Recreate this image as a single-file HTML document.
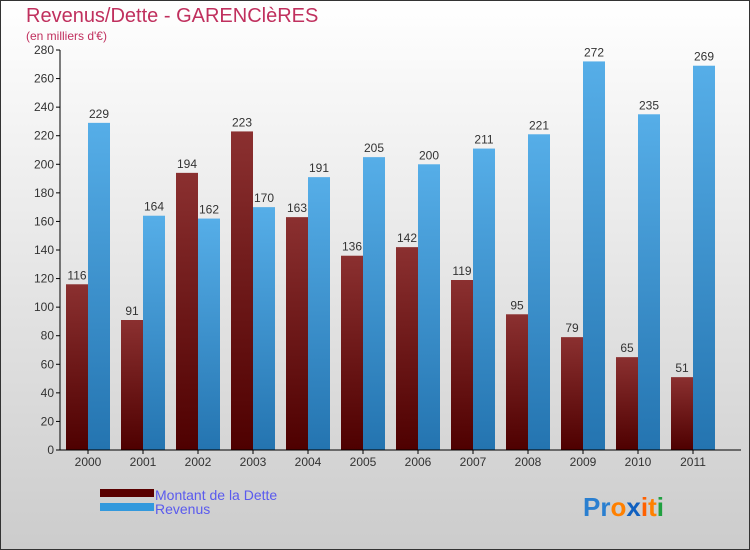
<!DOCTYPE html>
<html><head><meta charset="utf-8"><style>
body{margin:0;}
#c{width:750px;height:550px;position:relative;overflow:hidden;}
svg text{font-family:"Liberation Sans",sans-serif;}
</style></head><body>
<div id="c">
<svg id="s" width="750" height="550" xmlns="http://www.w3.org/2000/svg">
<defs>
<linearGradient id="bg" x1="0" y1="0" x2="0" y2="1"><stop offset="0" stop-color="#ffffff"/><stop offset="1" stop-color="#cccccc"/></linearGradient>
<linearGradient id="gr" x1="0" y1="0" x2="0" y2="1"><stop offset="0" stop-color="#8b3030"/><stop offset="1" stop-color="#4e0000"/></linearGradient>
<linearGradient id="gb" x1="0" y1="0" x2="0" y2="1"><stop offset="0" stop-color="#56aee8"/><stop offset="1" stop-color="#2474b0"/></linearGradient>
</defs>
<rect x="0.5" y="0.5" width="749" height="549" fill="url(#bg)" stroke="#333"/>
<text x="26" y="22" font-size="20" fill="#c0305e">Revenus/Dette - GARENClèRES</text>
<text x="26" y="40" font-size="12" fill="#c0305e">(en milliers d'€)</text>
<g id="plot"></g>
<rect x="100" y="489" width="54" height="8" fill="#5a0000"/>
<rect x="100" y="503" width="54" height="8" fill="#3399dd"/>
<text x="155" y="500" font-size="14" fill="#5a5aee">Montant de la Dette</text>
<text x="155" y="514" font-size="14" fill="#5a5aee">Revenus</text>
<text x="583" y="516" font-size="26" font-weight="bold"><tspan fill="#2a7fd0">Pr</tspan><tspan fill="#ff8000">o</tspan><tspan fill="#1060c0">x</tspan><tspan fill="#ff6000">i</tspan><tspan fill="#ff8000">t</tspan><tspan fill="#20a040">i</tspan></text>
</svg>
</div>
<script>
const years=["2000","2001","2002","2003","2004","2005","2006","2007","2008","2009","2010","2011"];
const dette=[116,91,194,223,163,136,142,119,95,79,65,51];
const revenus=[229,164,162,170,191,205,200,211,221,272,235,269];
const ticks=[0,20,40,60,80,100,120,140,160,180,200,220,240,260,280];
const NS="http://www.w3.org/2000/svg";
const g=document.getElementById('plot');
const y0=450,ppu=400/280,x0=60,step=55;
const Y=v=>y0-v*ppu;
const X=i=>x0+6+i*step;
function mk(t,a){const e=document.createElementNS(NS,t);for(const k in a)e.setAttribute(k,a[k]);g.appendChild(e);return e;}
ticks.forEach(t=>{
 const l=mk('line',{x1:56,x2:60,y1:Y(t),y2:Y(t),stroke:'#000'});
 
 
 const tx=mk('text',{x:54,y:Y(t)+4,'font-size':12,'text-anchor':'end',fill:'#333'});
 tx.textContent=t;
 
 
});
years.forEach((yr,i)=>{
 const r=mk('rect',{x:X(i),y:Y(dette[i]),width:22,height:dette[i]*ppu,fill:'url(#gr)'});
 
 
 const b=mk('rect',{x:X(i)+22,y:Y(revenus[i]),width:22,height:revenus[i]*ppu,fill:'url(#gb)'});
 
 
 const t1=mk('text',{x:X(i)+11,y:Y(dette[i])-5,'font-size':12,'text-anchor':'middle',fill:'#333'});
 t1.textContent=dette[i];
 
 
 const t2=mk('text',{x:X(i)+33,y:Y(revenus[i])-5,'font-size':12,'text-anchor':'middle',fill:'#333'});
 t2.textContent=revenus[i];
 
 
 const tk=mk('line',{x1:X(i)+22,x2:X(i)+22,y1:450,y2:454,stroke:'#000'});
 
 
 const xl=mk('text',{x:X(i)+22,y:466,'font-size':12,'text-anchor':'middle',fill:'#333'});
 xl.textContent=yr;
 
 
});
const ya=mk('line',{x1:60,x2:60,y1:50,y2:450,stroke:'#000'});


const xa=mk('line',{x1:60,x2:741,y1:450,y2:450,stroke:'#000'});


</script>
</body></html>
